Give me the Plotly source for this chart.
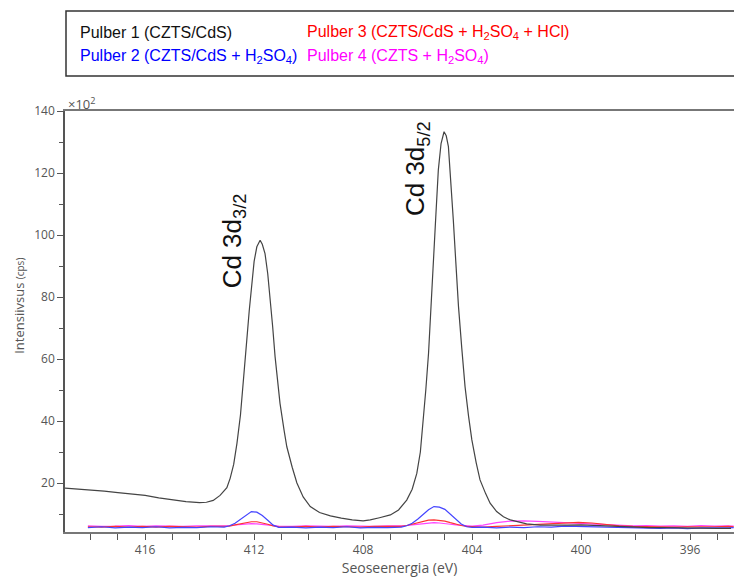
import plotly.graph_objects as go

# ---------------- data (intensity in x10^2 cps) ----------------
energy_p1 = [419.0, 418.5, 418.0, 417.5, 417.0, 416.5, 416.0, 415.5, 415.0, 414.5, 414.0, 413.75,
             413.5, 413.25, 413.0, 412.88, 412.75, 412.63, 412.5, 412.45, 412.35, 412.27, 412.18,
             412.08, 412.0, 411.9, 411.78, 411.7, 411.6, 411.5, 411.41, 411.32, 411.23, 411.14,
             411.05, 410.9, 410.8, 410.6, 410.43, 410.2, 409.94, 409.6, 409.2, 408.8, 408.4, 408.0,
             407.74, 407.4, 407.0, 406.7, 406.4, 406.2, 406.03, 405.9, 405.79, 405.7, 405.6, 405.5,
             405.42, 405.33, 405.24, 405.14, 405.03, 404.95, 404.87, 404.78, 404.69, 404.6, 404.5,
             404.38, 404.26, 404.13, 404.01, 403.85, 403.71, 403.5, 403.34, 403.1, 402.85, 402.6,
             402.36, 402.0, 401.5, 401.0, 400.5, 400.0, 399.5, 399.0, 398.5, 398.0, 397.5, 397.0,
             396.5, 396.0, 395.5, 395.0, 394.5]
pulber1 = [18.4, 18.1, 17.8, 17.4, 16.9, 16.4, 16.0, 15.2, 14.6, 14.0, 13.7, 13.8,
           14.4, 16.0, 18.5, 21.5, 26.0, 32.8, 42.0, 47.8, 57.5, 66.0, 75.5,
           85.0, 91.5, 96.2, 98.3, 97.0, 94.0, 87.5, 80.1, 70.5, 60.7, 52.5,
           45.7, 37.0, 31.7, 25.0, 20.0, 15.5, 12.4, 10.5, 9.4, 8.7, 8.1, 7.8,
           8.1, 8.8, 9.7, 11.3, 14.5, 18.0, 23.1, 30.0, 40.3, 50.0, 61.8, 77.0,
           91.9, 106.5, 121.0, 129.5, 133.3, 132.0, 128.5, 118.0, 104.8, 91.5, 76.9,
           63.5, 51.1, 41.5, 33.9, 26.5, 21.0, 16.5, 13.5, 10.8, 9.1, 8.1,
           7.5, 6.8, 6.4, 6.3, 6.4, 6.5, 6.3, 6.0, 5.8, 5.7, 5.6, 5.6,
           5.5, 5.4, 5.5, 5.4, 5.4]

energy_pulber = [418.1, 417.6, 417.1, 416.6, 416.1, 415.6, 415.1, 414.6, 414.1, 413.6, 413.1, 412.9,
                 412.7, 412.5, 412.3, 412.1, 411.9, 411.7, 411.5, 411.3, 411.1, 410.6, 410.1, 409.6,
                 409.1, 408.6, 408.1, 407.6, 407.1, 406.6, 406.4, 406.2, 406.0, 405.8, 405.6, 405.4,
                 405.2, 405.0, 404.8, 404.6, 404.4, 404.2, 404.0, 403.6, 403.1, 402.6, 402.1, 401.6,
                 401.1, 400.6, 400.1, 399.6, 399.1, 398.6, 398.1, 397.6, 397.1, 396.6, 396.1, 395.6,
                 395.1, 394.6, 394.4]
pulber2 = [5.6, 5.9, 5.5, 5.8, 5.6, 5.9, 5.5, 5.7, 5.6, 5.9, 5.8, 6.2,
           7.0, 8.3, 9.8, 10.8, 10.6, 9.5, 8.0, 6.4, 5.7, 5.8, 5.5, 5.8,
           5.6, 5.9, 5.5, 5.7, 5.6, 5.8, 6.2, 7.0, 8.3, 9.9, 11.4, 12.4,
           12.2, 11.5, 10.0, 8.3, 6.8, 5.9, 5.7, 5.8, 5.5, 5.8, 5.6, 5.9,
           5.8, 6.1, 6.0, 5.8, 5.9, 5.6, 5.5, 5.6, 5.4, 5.5, 5.3, 5.5,
           5.4, 5.5, 5.6]
pulber3 = [5.9, 5.8, 6.0, 5.8, 6.0, 5.8, 6.0, 5.9, 5.8, 6.0, 5.9, 6.1,
           6.5, 6.9, 7.3, 7.5, 7.5, 7.2, 6.7, 6.2, 5.9, 5.8, 6.0, 5.8,
           6.0, 5.9, 5.8, 6.0, 5.9, 6.0, 6.3, 6.7, 7.1, 7.6, 8.0, 8.1,
           8.0, 7.7, 7.2, 6.7, 6.3, 6.0, 5.9, 5.8, 6.0, 6.2, 6.4, 6.5,
           6.7, 7.0, 7.3, 7.1, 6.6, 6.2, 6.0, 5.9, 6.0, 5.8, 5.9, 5.8,
           5.9, 6.0, 5.9]
pulber4 = [6.2, 6.0, 6.1, 6.3, 6.0, 6.2, 6.1, 6.0, 6.2, 6.1, 6.2, 6.3,
           6.5, 6.7, 6.8, 6.9, 6.8, 6.6, 6.4, 6.2, 6.1, 6.0, 6.2, 6.1,
           6.0, 6.2, 6.1, 6.0, 6.2, 6.1, 6.3, 6.5, 6.7, 6.9, 7.1, 7.2,
           7.1, 7.0, 6.7, 6.5, 6.3, 6.2, 6.1, 6.4, 7.2, 7.7, 7.8, 7.6,
           7.4, 7.2, 7.0, 6.8, 6.5, 6.3, 6.2, 6.3, 6.1, 6.2, 6.0, 6.3,
           6.1, 6.2, 6.1]

x_ticks = [416, 412, 408, 404, 400, 396]
y_ticks = [20, 40, 60, 80, 100, 120, 140]

legend_labels = ["Pulber 1 (CZTS/CdS)",
                 "Pulber 2 (CZTS/CdS + H<sub>2</sub>SO<sub>4</sub>)",
                 "Pulber 3 (CZTS/CdS + H<sub>2</sub>SO<sub>4</sub> + HCl)",
                 "Pulber 4 (CZTS + H<sub>2</sub>SO<sub>4</sub>)"]
legend_colors = ["#111111", "#0000ff", "#ff0000", "#ff00ff"]

# ---------------- figure ----------------
fig = go.Figure()
fig.add_trace(go.Scatter(x=energy_pulber, y=pulber4, mode="lines",
                         line=dict(color="#ff44ff", width=1.2)))
fig.add_trace(go.Scatter(x=energy_pulber, y=pulber3, mode="lines",
                         line=dict(color="#ff3333", width=1.2)))
fig.add_trace(go.Scatter(x=energy_pulber, y=pulber2, mode="lines",
                         line=dict(color="#4444ff", width=1.2)))
fig.add_trace(go.Scatter(x=energy_p1, y=pulber1, mode="lines",
                         line=dict(color="#444444", width=1.2)))

tickfont = dict(family="Open Sans", size=12, color="#555555")

fig.update_layout(
    width=734, height=577,
    margin=dict(l=65, r=0, t=111, b=45),
    paper_bgcolor="white", plot_bgcolor="white",
    showlegend=False,
    xaxis=dict(range=[418.94, 394.39], tickvals=x_ticks, ticks="outside", ticklen=6,
               tickcolor="#555555", tickfont=tickfont, showgrid=False, zeroline=False,
               showline=True, linecolor="#777777", linewidth=1.5, mirror=True,
               minor=dict(dtick=1, ticks="outside", ticklen=6, tickcolor="#555555"),
               title=dict(text="Seoseenergia (eV)",
                          font=dict(family="Open Sans", size=14, color="#555555"),
                          standoff=4)),
    yaxis=dict(range=[4.2, 140], tickvals=y_ticks, ticks="outside", ticklen=6,
               tickcolor="#555555", tickfont=tickfont, showgrid=False, zeroline=False,
               showline=True, linecolor="#555555", linewidth=1.5,
               minor=dict(dtick=10, ticks="outside", ticklen=4, tickcolor="#555555")),
)

# y axis title
fig.add_annotation(xref="paper", yref="paper", x=-0.069, y=0.537,
                   xanchor="center", yanchor="middle",
                   text="Intensiivsus <span style='font-size:10px'>(cps)</span>",
                   textangle=-90, showarrow=False,
                   font=dict(family="Open Sans", size=13, color="#555555"))
# x10^2
fig.add_annotation(xref="paper", yref="paper", x=0.002, y=1.0, xanchor="left", yanchor="bottom",
                   text="×10<sup>2</sup>", showarrow=False, yshift=-4,
                   font=dict(family="Open Sans", size=13, color="#555555"))

# peak labels
fig.add_annotation(x=412.77, y=98, text="Cd 3d<sub>3/2</sub>", textangle=-90, showarrow=False,
                   xanchor="center", yanchor="middle",
                   font=dict(family="Liberation Sans", size=26, color="#111111"))
fig.add_annotation(x=406.02, y=121.3, text="Cd 3d<sub>5/2</sub>", textangle=-90, showarrow=False,
                   xanchor="center", yanchor="middle",
                   font=dict(family="Liberation Sans", size=26, color="#111111"))

# legend box
fig.add_shape(type="rect", xref="paper", yref="paper", x0=0.0015, x1=1.05, y0=1.083, y1=1.2375,
              line=dict(color="#333333", width=1.5), fillcolor="white", layer="below")
leg_pos = [(0.0194, 1.1853), (0.0194, 1.1283), (0.3587, 1.1853), (0.3587, 1.1283)]
for lbl, col, (lx, ly) in zip(legend_labels, legend_colors, leg_pos):
    fig.add_annotation(xref="paper", yref="paper", x=lx, y=ly, xanchor="left", yanchor="middle",
                       text=lbl, showarrow=False,
                       font=dict(family="Liberation Sans", size=16, color=col))

fig.write_html("out.html", config={"displayModeBar": False},
               post_script="document.body.style.margin='0';document.body.style.overflow='hidden';")
